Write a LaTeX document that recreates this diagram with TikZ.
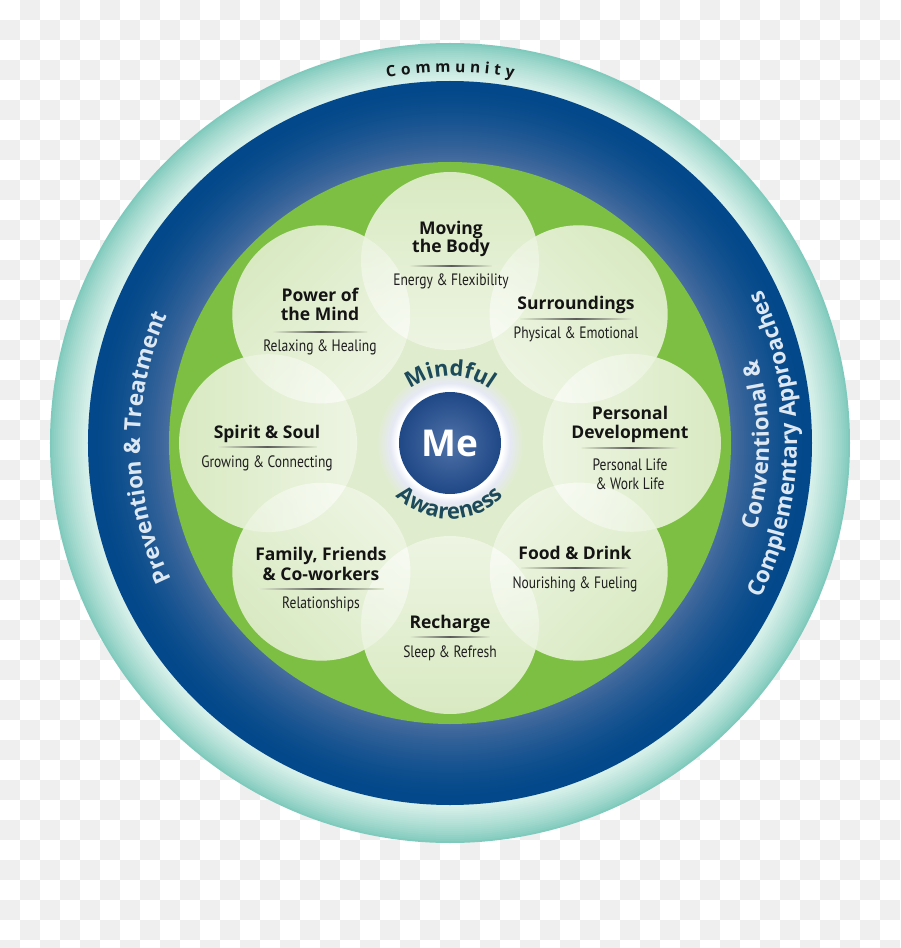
\documentclass[tikz,border=0pt]{standalone}
\usepackage{fontspec}
\setmainfont{Open Sans}
\newfontfamily\subfont[FakeStretch=0.82]{PT Sans}
\usetikzlibrary{decorations.text,fadings}

\definecolor{teal1}{HTML}{7FCABC}
\definecolor{teal2}{HTML}{DCF2EC}
\definecolor{blue1}{HTML}{02488A}
\definecolor{blue3}{HTML}{486D9F}
\definecolor{bgreen}{HTML}{7CBF43}
\definecolor{pgreen}{HTML}{D4E7BA}
\definecolor{sgreen}{HTML}{E0ECCE}
\definecolor{menavy}{HTML}{1F4886}
\definecolor{melight}{HTML}{5072A8}
\definecolor{glowc}{HTML}{E6E9F4}
\definecolor{mindc}{HTML}{1C4A5A}
\definecolor{ringtxt}{HTML}{DDE8F2}
\definecolor{chk}{HTML}{EFEFEF}
\definecolor{titlec}{HTML}{141414}
\definecolor{subc}{HTML}{1E1E1E}
\definecolor{linec}{HTML}{5A5A5A}

% a circle's rim lies at 25bp of these radial shadings
\pgfdeclareradialshading{glowshade}{\pgfpointorigin}{color(0bp)=(glowc); color(15bp)=(white); color(15.6bp)=(white); color(17.6bp)=(glowc); color(21.5bp)=(sgreen); color(50bp)=(sgreen)}
\pgfdeclareradialshading{meshade}{\pgfpointorigin}{color(0bp)=(melight); color(25bp)=(menavy); color(50bp)=(menavy)}

\tikzfading[name=petalfade, top color=transparent!88, bottom color=transparent!40]

\newcommand\mindfont{\bfseries\fontsize{22}{22}\selectfont}
\newcommand\ringfont{\bfseries\fontsize{22.5}{22.5}\selectfont}
\newcommand\sepline[3]{\shade[left color=sgreen, right color=sgreen, middle color=linec] ({#1-#3/2},{#2-0.7}) rectangle ({#1+#3/2},{#2+0.7});}

\tikzset{
  ptitle/.style={font=\bfseries\fontsize{17.5}{17.5}\selectfont, text=titlec, inner sep=0pt, anchor=base},
  psub/.style={font=\subfont\fontsize{16.5}{16.5}\selectfont, text=subc, inner sep=0pt, anchor=base},
  ringamp/.style={font=\ringfont, text=ringtxt, inner sep=0pt, anchor=base},
  commletter/.style={font=\bfseries\fontsize{15.5}{15.5}\selectfont, text=titlec, inner sep=0pt, anchor=base}
}

\begin{document}
\begin{tikzpicture}[x=1pt,y=1pt]
\useasboundingbox (-450,-505) rectangle (450,443);
% checkerboard background
\begin{scope}
\clip (-450,-505) rectangle (450,443);
\fill[white] (-450,-505) rectangle (450,443);
\foreach \j in {0,...,47}{%
  \pgfmathtruncatemacro\o{20*mod(\j,2)}%
  \foreach \i in {0,40,...,880}{\fill[chk] (\i-430-\o,443-20*\j) rectangle ++(20,-20);}}
\end{scope}

% outer teal ring (stepped gradient, dark at the rim)
\foreach \k in {0,...,19}{%
  \pgfmathsetmacro\rr{400-2*\k}%
  \pgfmathtruncatemacro\p{100*(\k/19)^0.8}%
  \fill[teal2!\p!teal1] (0,0) circle (\rr pt);}
% dark blue ring (stepped gradient, lighter inwards)
\foreach \k in {0,...,40}{%
  \pgfmathsetmacro\rr{362-2*\k}%
  \pgfmathtruncatemacro\p{100*(\k/40)^1.6}%
  \fill[blue3!\p!blue1] (0,0) circle (\rr pt);}
\fill[bgreen] (0,0) circle (281pt);

% petals
\fill[sgreen] (0,0) circle (114pt);
\foreach \a in {90,45,0,-45,-90,-135,180,135}{\fill[pgreen] (\a:182pt) circle (89pt);}
\foreach \a/\fa in {90/0,45/-45,0/-90,-45/-135,-90/-180,-135/-225,180/90,135/45}{%
  \fill[white, path fading=petalfade, fading angle=\fa] (\a:182pt) circle (89pt);}

% centre
\shade[shading=glowshade] (0,0) circle (85pt);
\shade[shading=meshade] (0,0) circle (51pt);
\node[font=\bfseries\fontsize{37}{37}\selectfont, text=white, inner sep=0pt] (me) at (0,0) {Me};

% curved texts round the centre
\path[decorate, decoration={text along path, text align=center, text color=mindc, text={|\mindfont|Mindful}}]
  (150:67pt) arc[start angle=150, end angle=30, radius=67pt];
\path[decorate, decoration={text along path, text align=center, text color=mindc, text={|\mindfont|Awareness}}]
  (200:76pt) arc[start angle=200, end angle=340, radius=76pt];

% Community (letters set one by one, tracked)
\foreach \l/\t [count=\n] in {C/99.02,o/96.76,m/94.12,m/91.07,u/88.42,n/86.15,i/84.31,t/82.73,y/80.83}{%
  \pgfmathsetmacro\rot{\t-90}%
  \node[commletter, rotate=\rot] (comm\n) at (\t:371pt) {\l};}

% Prevention & Treatment (left, reading upwards)
\path[decorate, decoration={text along path, text align=right, text color=ringtxt, text={|\ringfont|Prevention}}]
  (215:310pt) arc[start angle=215, end angle=183.22, radius=310pt];
\node[ringamp, rotate=90.51] (ampL) at (180.51:310pt) {\&};
\path[decorate, decoration={text along path, text align=left, text color=ringtxt, text={|\ringfont|Treatment}}]
  (177.8:310pt) arc[start angle=177.8, end angle=140, radius=310pt];

% Conventional & / Complementary Approaches (right, reading upwards)
\path[decorate, decoration={text along path, text align=right, text color=ringtxt, text={|\ringfont|Conventional}}]
  (-45:319pt) arc[start angle=-45, end angle=11.05, radius=319pt];
\node[ringamp, rotate=103.68] (ampR) at (13.68:319pt) {\&};
\path[decorate, decoration={text along path, text align=right, text color=ringtxt, text={|\ringfont|Complementary}}]
  (-50:347pt) arc[start angle=-50, end angle=3.35, radius=347pt];
\path[decorate, decoration={text along path, text align=left, text color=ringtxt, text={|\ringfont|Approaches}}]
  (4.32:347pt) arc[start angle=4.32, end angle=50, radius=347pt];

% petal labels
\node[ptitle] (t1a) at (1,208) {Moving};
\node[ptitle] (t1b) at (1,190) {the Body};
\sepline{1}{177}{82}
\node[psub] (s1) at (1,157) {Energy \& Flexibility};

\node[ptitle] (t2a) at (-130,141) {Power of};
\node[ptitle] (t2b) at (-130,122) {the Mind};
\sepline{-130}{111}{95}
\node[psub] (s2) at (-130,92) {Relaxing \& Healing};

\node[ptitle] (t3a) at (126,133) {Surroundings};
\sepline{126}{124}{112}
\node[psub] (s3) at (126,104.5) {Physical \& Emotional};

\node[ptitle] (t4a) at (-183,5) {Spirit \& Soul};
\sepline{-183}{-4}{100}
\node[psub] (s4) at (-183,-24.5) {Growing \& Connecting};

\node[ptitle] (t5a) at (180,24) {Personal};
\node[ptitle] (t5b) at (180,5) {Development};
\sepline{180}{-5}{97}
\node[psub] (s5a) at (180,-27) {Personal Life};
\node[psub] (s5b) at (180,-46) {\& Work Life};

\node[ptitle] (t6a) at (125,-116) {Food \& Drink};
\sepline{125}{-125}{108}
\node[psub] (s6) at (125,-145.5) {Nourishing \& Fueling};

\node[ptitle] (t7a) at (0,-185) {Recharge};
\sepline{0}{-194}{80}
\node[psub] (s7) at (0,-214.5) {Sleep \& Refresh};

\node[ptitle] (t8a) at (-129,-117) {Family, Friends};
\node[ptitle] (t8b) at (-129,-137) {\& Co-workers};
\sepline{-129}{-146}{126}
\node[psub] (s8) at (-129,-165) {Relationships};
\end{tikzpicture}
\end{document}
